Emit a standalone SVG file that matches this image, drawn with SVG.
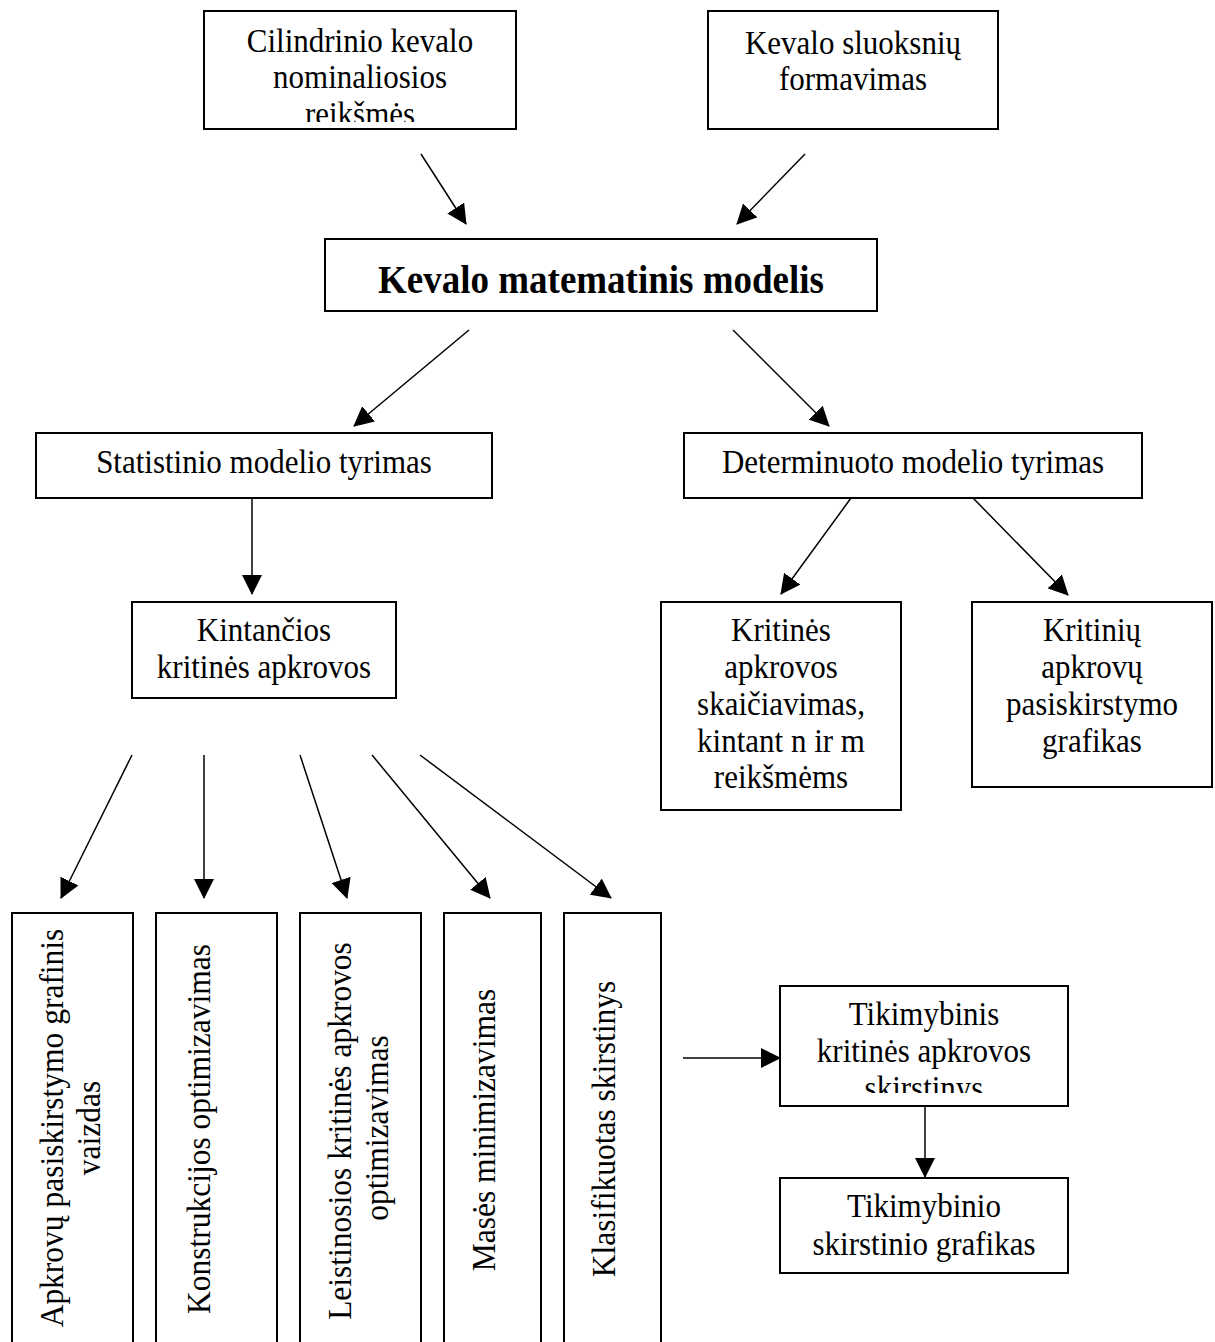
<svg xmlns="http://www.w3.org/2000/svg" width="1215" height="1342" viewBox="0 0 1215 1342">
<style>
.box{fill:#fff;stroke:#000;stroke-width:2}
.t{font-family:"Liberation Serif","Times New Roman",serif;font-size:31px;fill:#000;text-anchor:middle}
.b{font-weight:bold;font-size:37px}
.v{font-size:31.5px}
.c{stroke:#000;stroke-width:1.5;fill:none;marker-end:url(#ah)}
</style>
<defs>
<marker id="ah" markerUnits="userSpaceOnUse" markerWidth="20" markerHeight="20" refX="19" refY="10" orient="auto">
<path d="M0,0 L20,10 L0,20 z" fill="#000"/>
</marker>
<clipPath id="clip1"><rect x="205" y="12" width="310" height="110"/></clipPath>
<clipPath id="clip2"><rect x="781" y="987" width="286" height="106"/></clipPath>
</defs>
<rect width="1215" height="1342" fill="#fff"/>

<g id="connectors">
<line class="c" x1="421" y1="154" x2="466" y2="224"/>
<line class="c" x1="805" y1="154" x2="737" y2="224"/>
<line class="c" x1="469" y1="330" x2="354" y2="426"/>
<line class="c" x1="733" y1="330" x2="829" y2="426"/>
<line class="c" x1="252" y1="498" x2="252" y2="594"/>
<line class="c" x1="851" y1="498" x2="781" y2="594"/>
<line class="c" x1="973" y1="498" x2="1068" y2="595"/>
<line class="c" x1="132" y1="755" x2="61" y2="898"/>
<line class="c" x1="204" y1="755" x2="204" y2="898"/>
<line class="c" x1="300" y1="755" x2="347" y2="898"/>
<line class="c" x1="372" y1="755" x2="490" y2="898"/>
<line class="c" x1="420" y1="755" x2="611" y2="898"/>
<line class="c" x1="683" y1="1058" x2="780" y2="1058"/>
<line class="c" x1="925" y1="1106" x2="925" y2="1177"/>
</g>

<g id="n1">
<rect class="box" x="204" y="11" width="312" height="118"/>
<g clip-path="url(#clip1)">
<text class="t" x="360" y="52" transform="matrix(1 0 0 1.1 0 -5.2)">Cilindrinio kevalo</text>
<text class="t" x="360" y="88" transform="matrix(1 0 0 1.1 0 -8.8)">nominaliosios</text>
<text class="t" x="360" y="125" transform="matrix(1 0 0 1.1 0 -12.5)">reikšmės</text>
</g>
</g>

<g id="n2">
<rect class="box" x="708" y="11" width="290" height="118"/>
<text class="t" x="853" y="54" transform="matrix(1 0 0 1.1 0 -5.4)">Kevalo sluoksnių</text>
<text class="t" x="853" y="90" transform="matrix(1 0 0 1.1 0 -9)">formavimas</text>
</g>

<g id="n3">
<rect class="box" x="325" y="239" width="552" height="72"/>
<text class="t b" x="601" y="293" transform="matrix(1 0 0 1.1 0 -29.3)">Kevalo matematinis modelis</text>
</g>

<g id="n4">
<rect class="box" x="36" y="433" width="456" height="65"/>
<text class="t" x="264" y="473" transform="matrix(1 0 0 1.1 0 -47.3)">Statistinio modelio tyrimas</text>
</g>

<g id="n5">
<rect class="box" x="684" y="433" width="458" height="65"/>
<text class="t" x="913" y="473" transform="matrix(1 0 0 1.1 0 -47.3)">Determinuoto modelio tyrimas</text>
</g>

<g id="n6">
<rect class="box" x="132" y="602" width="264" height="96"/>
<text class="t" x="264" y="641" transform="matrix(1 0 0 1.1 0 -64.1)">Kintančios</text>
<text class="t" x="264" y="678" transform="matrix(1 0 0 1.1 0 -67.8)">kritinės apkrovos</text>
</g>

<g id="n7">
<rect class="box" x="661" y="602" width="240" height="208"/>
<text class="t" x="781" y="641" transform="matrix(1 0 0 1.1 0 -64.1)">Kritinės</text>
<text class="t" x="781" y="678" transform="matrix(1 0 0 1.1 0 -67.8)">apkrovos</text>
<text class="t" x="781" y="715" transform="matrix(1 0 0 1.1 0 -71.5)">skaičiavimas,</text>
<text class="t" x="781" y="752" transform="matrix(1 0 0 1.1 0 -75.2)">kintant n ir m</text>
<text class="t" x="781" y="788" transform="matrix(1 0 0 1.1 0 -78.8)">reikšmėms</text>
</g>

<g id="n8">
<rect class="box" x="972" y="602" width="240" height="185"/>
<text class="t" x="1092" y="641" transform="matrix(1 0 0 1.1 0 -64.1)">Kritinių</text>
<text class="t" x="1092" y="678" transform="matrix(1 0 0 1.1 0 -67.8)">apkrovų</text>
<text class="t" x="1092" y="715" transform="matrix(1 0 0 1.1 0 -71.5)">pasiskirstymo</text>
<text class="t" x="1092" y="752" transform="matrix(1 0 0 1.1 0 -75.2)">grafikas</text>
</g>

<g id="n9">
<rect class="box" x="12" y="913" width="121" height="440"/>
<text class="t v" transform="translate(63,1128) rotate(-90) scale(1,1.06)">Apkrovų pasiskirstymo grafinis</text>
<text class="t v" transform="translate(100,1128) rotate(-90) scale(1,1.06)">vaizdas</text>
</g>

<g id="n10">
<rect class="box" x="156" y="913" width="121" height="440"/>
<text class="t v" transform="translate(210,1129) rotate(-90) scale(1,1.06)">Konstrukcijos optimizavimas</text>
</g>

<g id="n11">
<rect class="box" x="300" y="913" width="121" height="440"/>
<text class="t v" transform="translate(351,1131) rotate(-90) scale(1,1.06)">Leistinosios kritinės apkrovos</text>
<text class="t v" transform="translate(388,1128) rotate(-90) scale(1,1.06)">optimizavimas</text>
</g>

<g id="n12">
<rect class="box" x="444" y="913" width="97" height="440"/>
<text class="t v" transform="translate(495,1130) rotate(-90) scale(1,1.06)">Masės minimizavimas</text>
</g>

<g id="n13">
<rect class="box" x="564" y="913" width="97" height="440"/>
<text class="t v" transform="translate(615,1129) rotate(-90) scale(1,1.06)">Klasifikuotas skirstinys</text>
</g>

<g id="n14">
<rect class="box" x="780" y="986" width="288" height="120"/>
<g clip-path="url(#clip2)">
<text class="t" x="924" y="1025" transform="matrix(1 0 0 1.1 0 -102.5)">Tikimybinis</text>
<text class="t" x="924" y="1062" transform="matrix(1 0 0 1.1 0 -106.2)">kritinės apkrovos</text>
<text class="t" x="924" y="1099" transform="matrix(1 0 0 1.1 0 -109.9)">skirstinys</text>
</g>
</g>

<g id="n15">
<rect class="box" x="780" y="1178" width="288" height="95"/>
<text class="t" x="924" y="1217" transform="matrix(1 0 0 1.1 0 -121.7)">Tikimybinio</text>
<text class="t" x="924" y="1255" transform="matrix(1 0 0 1.1 0 -125.5)">skirstinio grafikas</text>
</g>
</svg>
